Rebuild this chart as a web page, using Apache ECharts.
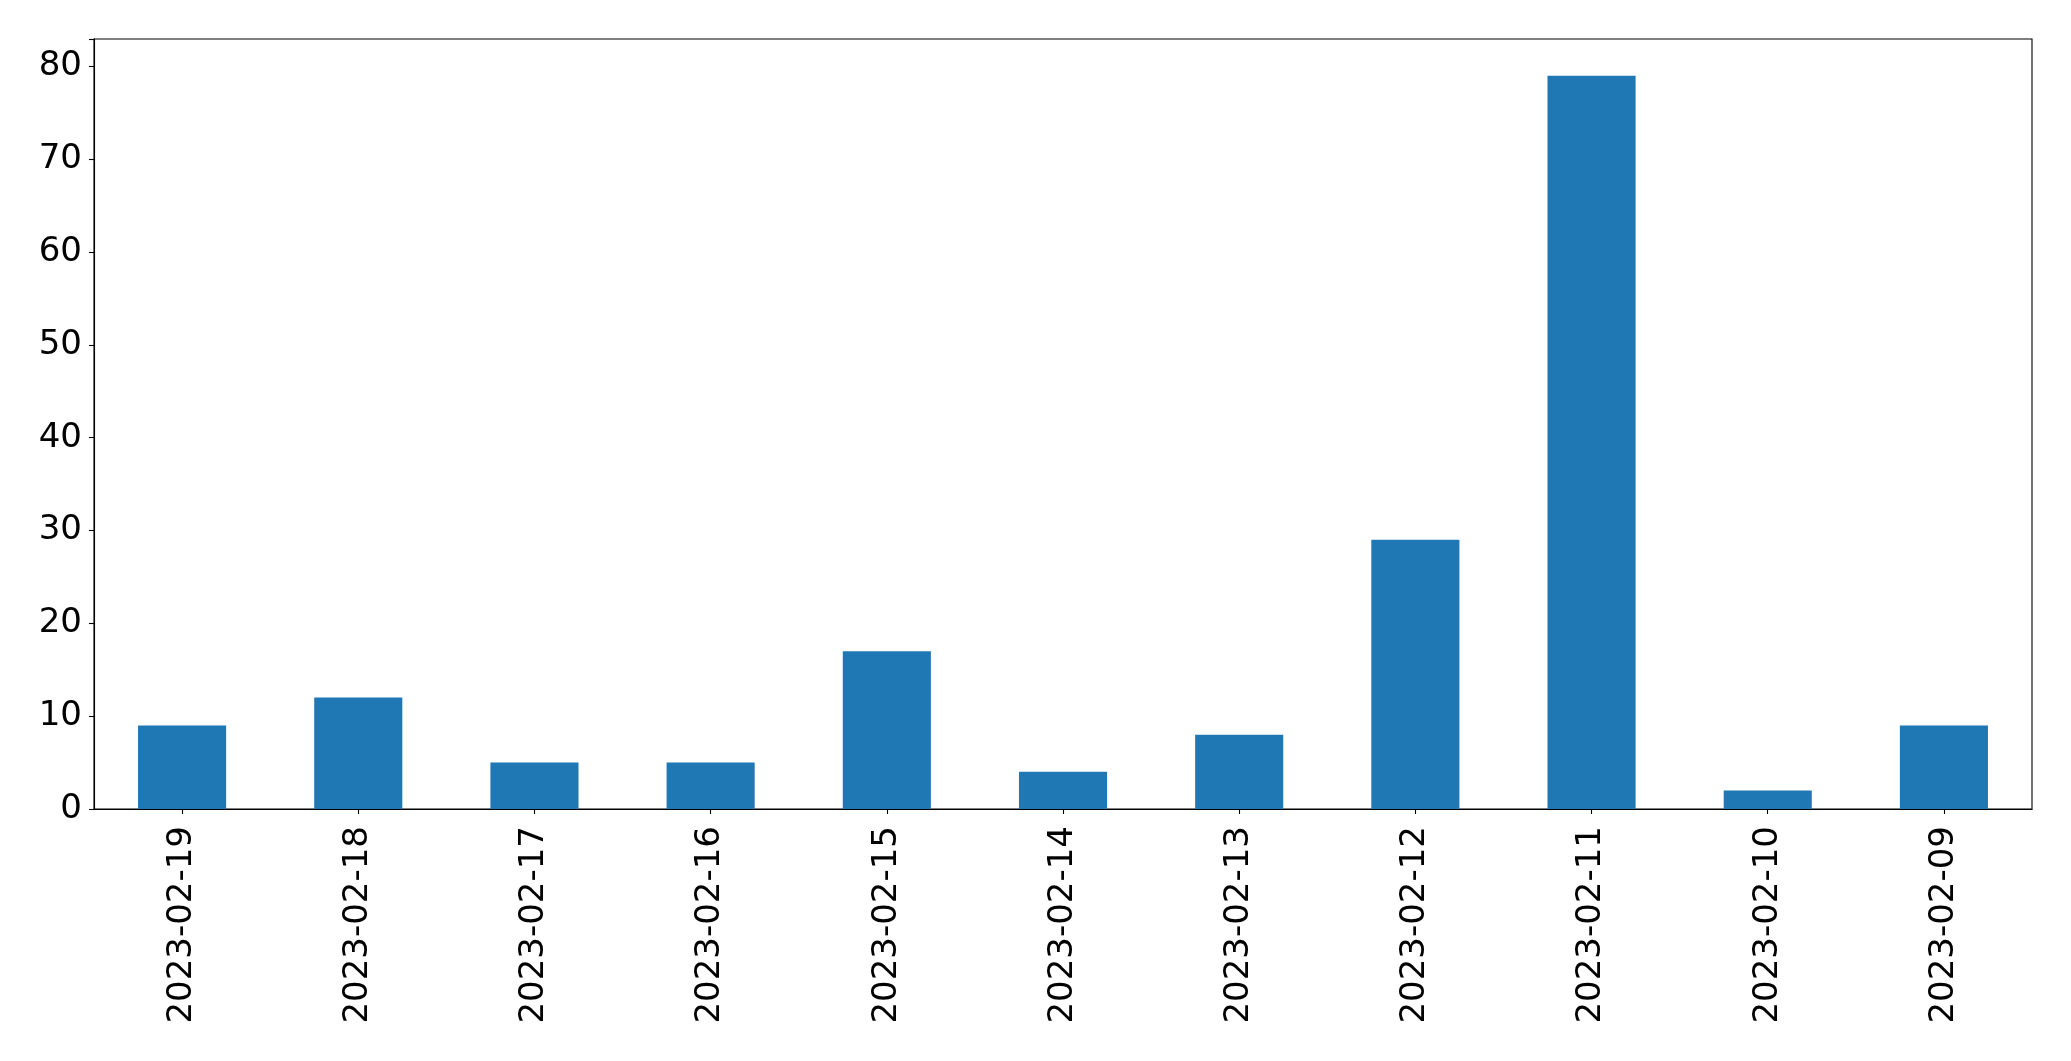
<!DOCTYPE html>
<html>
<head>
<meta charset="utf-8">
<script src="https://cdn.jsdelivr.net/npm/echarts@6/dist/echarts.min.js"></script>
<style>
html,body{margin:0;padding:0;background:#fff;}
#chart{width:2071px;height:1061px;}
</style>
</head>
<body>
<div id="chart"></div>
<script>
const categories = ['2023-02-19','2023-02-18','2023-02-17','2023-02-16','2023-02-15','2023-02-14','2023-02-13','2023-02-12','2023-02-11','2023-02-10','2023-02-09'];
const values = [9, 12, 5, 5, 17, 4, 8, 29, 79, 2, 9];
const yTicks = [0, 10, 20, 30, 40, 50, 60, 70, 80];

const chart = echarts.init(document.getElementById('chart'), null, {renderer: 'canvas'});
const font = 'DejaVu Sans';
chart.setOption({
  animation: false,
  backgroundColor: '#ffffff',
  grid: {
    left: 94, right: 39, top: 39, bottom: 252,
    show: true, borderColor: '#000', borderWidth: 1.1, backgroundColor: 'transparent',
    containLabel: false
  },
  xAxis: {
    type: 'category',
    data: categories,
    boundaryGap: true,
    axisLine: {show: true, lineStyle: {color: '#000', width: 1.1}},
    axisTick: {show: true, alignWithLabel: true, length: 5, lineStyle: {color: '#000', width: 1.1}},
    axisLabel: {
      rotate: 90, interval: 0, margin: 17,
      color: '#000', fontFamily: font, fontSize: 34
    },
    splitLine: {show: false}
  },
  yAxis: {
    type: 'value',
    min: 0, max: 82.95, interval: 10,
    axisLine: {show: true, lineStyle: {color: '#000', width: 1.1}},
    axisTick: {show: true, length: 5, lineStyle: {color: '#000', width: 1.1}},
    axisLabel: {
      margin: 12, color: '#000', fontFamily: font, fontSize: 34,
      formatter: function (v) { return yTicks.indexOf(v) >= 0 ? String(v) : ''; }
    },
    splitLine: {show: false}
  },
  series: [{
    type: 'bar',
    data: values,
    barWidth: '50%',
    itemStyle: {color: '#1f77b4'}
  }]
});
</script>
</body>
</html>
